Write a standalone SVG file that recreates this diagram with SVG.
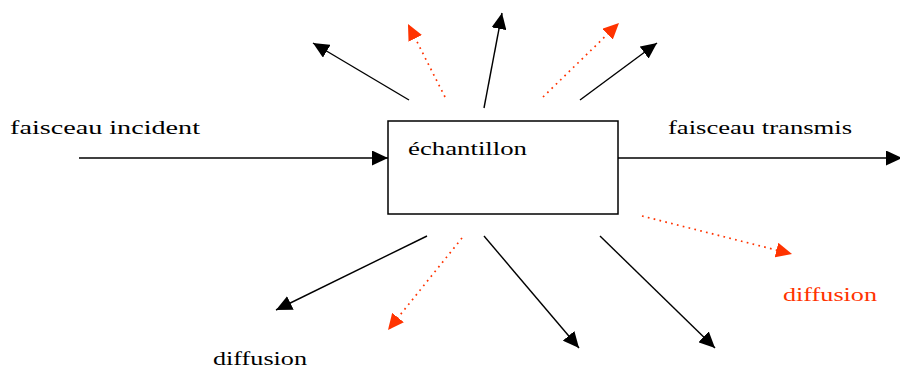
<svg xmlns="http://www.w3.org/2000/svg" width="900" height="369" viewBox="0 0 900 369">
<style>
.t{font-family:"Liberation Serif","DejaVu Serif",serif;font-size:19px;fill:#000}
.r{fill:#ff3300}
.k{stroke:#000;stroke-width:1.4;fill:none}
.d{stroke:#ff3300;stroke-width:1.7;fill:none;stroke-dasharray:1.7 4.3}
</style>
<defs>
<marker id="ab" markerUnits="userSpaceOnUse" markerWidth="16" markerHeight="15" refX="16" refY="7.5" orient="auto" viewBox="0 0 16 15"><path d="M0,0 L16,7.5 L0,15 z" fill="#000"/></marker>
<marker id="ar" markerUnits="userSpaceOnUse" markerWidth="16" markerHeight="15" refX="16" refY="7.5" orient="auto" viewBox="0 0 16 15"><path d="M0,0 L16,7.5 L0,15 z" fill="#ff3300"/></marker>
</defs>
<rect width="900" height="369" fill="#fff"/>
<g id="sample">
<rect x="388" y="121" width="230" height="93" fill="#fff" stroke="#000" stroke-width="1.5"/>
<text class="t" x="408" y="155" textLength="119" lengthAdjust="spacingAndGlyphs">échantillon</text>
</g>
<g id="labels">
<text class="t" x="10" y="134" textLength="190" lengthAdjust="spacingAndGlyphs">faisceau  incident</text>
<text class="t" x="668" y="134" textLength="184" lengthAdjust="spacingAndGlyphs">faisceau transmis</text>
<text class="t r" x="783" y="301" textLength="94" lengthAdjust="spacingAndGlyphs">diffusion</text>
<text class="t" x="213" y="365" textLength="94" lengthAdjust="spacingAndGlyphs">diffusion</text>
</g>
<g id="connectors">
<line class="k" x1="79" y1="158" x2="388" y2="158" marker-end="url(#ab)"/>
<line class="k" x1="618" y1="158" x2="902" y2="158" marker-end="url(#ab)"/>
<line class="k" x1="409" y1="100" x2="313" y2="43" marker-end="url(#ab)"/>
<line class="d" x1="445" y1="97" x2="408" y2="24" marker-end="url(#ar)"/>
<line class="k" x1="484" y1="108" x2="502" y2="13" marker-end="url(#ab)"/>
<line class="d" x1="543" y1="97" x2="619" y2="23" marker-end="url(#ar)"/>
<line class="k" x1="580" y1="100" x2="657" y2="43" marker-end="url(#ab)"/>
<line class="k" x1="427" y1="236" x2="276" y2="310" marker-end="url(#ab)"/>
<line class="d" x1="462" y1="238" x2="388" y2="330" marker-end="url(#ar)"/>
<line class="k" x1="484" y1="236" x2="579" y2="348" marker-end="url(#ab)"/>
<line class="k" x1="600" y1="236" x2="715" y2="348" marker-end="url(#ab)"/>
<line class="d" x1="642" y1="216" x2="792" y2="254" marker-end="url(#ar)"/>
</g>
</svg>
